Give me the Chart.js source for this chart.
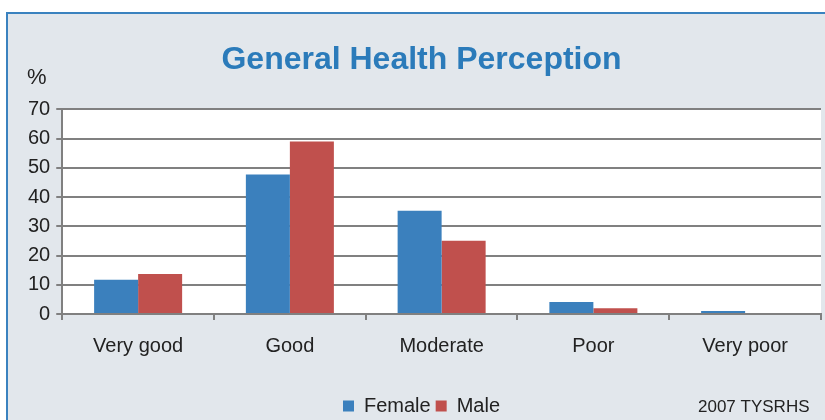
<!DOCTYPE html>
<html>
<head>
<meta charset="utf-8">
<script src="https://cdn.jsdelivr.net/npm/chart.js@4/dist/chart.umd.min.js"></script>
<style>
  html, body { margin: 0; padding: 0; background: #fff; }
  #wrap { width: 825px; height: 420px; position: relative; }
</style>
</head>
<body>
<div id="wrap"><canvas id="healthChart"></canvas></div>
<script>
const categories = ['Very good', 'Good', 'Moderate', 'Poor', 'Very poor'];
const femaleValues = [11.7, 47.7, 35.3, 4.1, 1.0];
const maleValues = [13.7, 59.0, 25.1, 2.0, 0];
const yTicks = [0, 10, 20, 30, 40, 50, 60, 70];

const FONT = '"Liberation Sans", Arial, sans-serif';

const panelBg = {
    id: 'panelBg',
    beforeDraw(chart) {
        const ctx = chart.ctx;
        const area = chart.chartArea;
        ctx.save();
        ctx.fillStyle = '#ffffff';
        ctx.fillRect(0, 0, chart.width, chart.height);
        ctx.fillStyle = '#e2e7ec';
        ctx.fillRect(6, 12, chart.width, chart.height);
        ctx.strokeStyle = '#3a82bf';
        ctx.lineWidth = 2;
        ctx.beginPath();
        ctx.moveTo(7, chart.height + 2);
        ctx.lineTo(7, 13);
        ctx.lineTo(chart.width + 2, 13);
        ctx.stroke();
        ctx.fillStyle = '#ffffff';
        ctx.fillRect(area.left, area.top, area.right - area.left, area.bottom - area.top);
        ctx.restore();
    },
    afterDraw(chart) {
        const ctx = chart.ctx;
        ctx.save();
        ctx.fillStyle = '#222';
        ctx.textBaseline = 'middle';
        ctx.textAlign = 'left';
        ctx.font = '22px ' + FONT;
        ctx.fillText('%', 27, 78);
        ctx.font = '17px ' + FONT;
        ctx.fillText('2007 TYSRHS', 698, 407);
        ctx.restore();
    }
};

new Chart(document.getElementById('healthChart'), {
    type: 'bar',
    data: {
        labels: categories,
        datasets: [
            {
                label: 'Female',
                data: femaleValues,
                backgroundColor: '#3b80bd'
            },
            {
                label: 'Male',
                data: maleValues,
                backgroundColor: '#c0504d'
            }
        ]
    },
    options: {
        responsive: true,
        maintainAspectRatio: false,
        animation: false,
        layout: { padding: { left: 22, right: 4, top: 0, bottom: -6 } },
        datasets: { bar: { categoryPercentage: 0.58, barPercentage: 1.0 } },
        plugins: {
            title: {
                display: true,
                text: 'General Health Perception',
                color: '#2b7bba',
                font: { family: FONT, size: 32, weight: 'bold' },
                padding: { top: 41, bottom: 30 }
            },
            legend: {
                position: 'bottom',
                labels: {
                    color: '#222',
                    font: { family: FONT, size: 20 },
                    boxWidth: 11,
                    boxHeight: 11,
                    padding: 5
                }
            },
            tooltip: { enabled: false }
        },
        scales: {
            x: {
                afterFit(scale) {
                    scale.height += 19;
                },
                grid: { offset: true, drawOnChartArea: false, color: '#808080', lineWidth: 2, tickLength: 6 },
                border: { color: '#808080', width: 2 },
                ticks: {
                    color: '#222',
                    padding: 14,
                    font: { family: FONT, size: 20 }
                }
            },
            y: {
                min: 0,
                max: 70,
                afterBuildTicks(scale) {
                    scale.ticks = yTicks.map(v => ({ value: v }));
                },
                grid: { color: '#808080', lineWidth: 2, tickLength: 6 },
                border: { color: '#808080', width: 2 },
                ticks: {
                    color: '#222',
                    padding: 6,
                    font: { family: FONT, size: 20 }
                }
            }
        }
    },
    plugins: [panelBg]
});
</script>
</body>
</html>
